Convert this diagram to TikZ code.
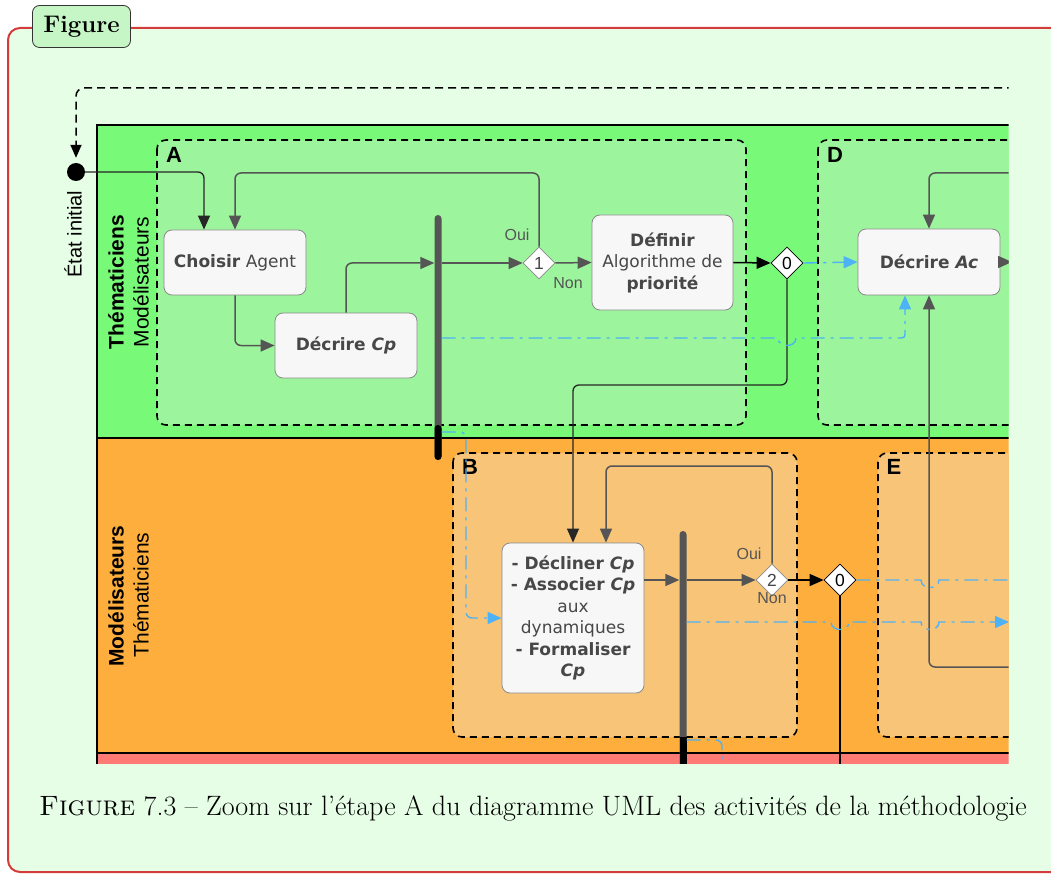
\documentclass[tikz,border=0pt]{standalone}
\usepackage{fontspec}
\newfontfamily\dejavu{DejaVu Sans}
\newfontfamily\libsans{Liberation Sans}
\usetikzlibrary{shapes.geometric,arrows.meta,calc}
\definecolor{framered}{HTML}{D43C3C}
\definecolor{framebg}{HTML}{E6FDE6}
\definecolor{titlebg}{HTML}{C6F6C6}
\definecolor{laneA}{HTML}{78FA78}
\definecolor{laneB}{HTML}{FDAE3D}
\definecolor{laneC}{HTML}{FD7B74}
\definecolor{grpA}{HTML}{9CF59C}
\definecolor{grpB}{HTML}{F7C478}
\definecolor{actfill}{HTML}{F7F7F7}
\definecolor{actdraw}{HTML}{8A8A8A}
\definecolor{flowgray}{HTML}{555555}
\definecolor{txtgray}{HTML}{474747}
\definecolor{flowblue}{HTML}{4DB2F6}
\tikzset{
  activity/.style={draw=actdraw, line width=0.8pt, fill=actfill, rounded corners=8pt, text=txtgray,
    font=\dejavu\fontsize{17}{21.5}\selectfont, align=center, inner sep=3pt},
  decision/.style={diamond, draw=actdraw, fill=white, minimum width=32pt, minimum height=32pt,
    inner sep=0pt, font=\libsans\fontsize{17.5}{18}\selectfont, text=txtgray, line width=0.8pt},
  decisionk/.style={decision, draw=black, text=black},
  forkbar/.style={fill=flowgray, rounded corners=3.5pt, minimum width=7pt, inner sep=0pt, draw=none},
  flow/.style={draw=flowgray, line width=1.5pt, -{Triangle[length=14pt,width=12pt]}},
  flowk/.style={flow, draw=black},
  bluecon/.style={draw=flowblue, line width=1.4pt, dash pattern=on 14pt off 6pt on 3pt off 6pt},
  blueflow/.style={bluecon, -{Triangle[length=14pt,width=12pt]}},
  groupbox/.style={draw=black, line width=1.6pt, dash pattern=on 7pt off 5pt, rounded corners=9pt},
  grplbl/.style={font=\libsans\bfseries\fontsize{22}{24}\selectfont, inner sep=0pt},
  lanebold/.style={font=\libsans\bfseries\fontsize{21}{23}\selectfont, rotate=90, inner sep=0pt},
  lanereg/.style={font=\libsans\fontsize{21}{23}\selectfont, rotate=90, inner sep=0pt},
  lbl/.style={font=\libsans\fontsize{16}{18}\selectfont, text=flowgray, inner sep=0pt},
  titlebox/.style={draw=black!80, line width=0.8pt, fill=titlebg, rounded corners=7pt, minimum width=98pt,
    minimum height=42pt, font=\bfseries\fontsize{24}{26}\selectfont}
}
\begin{document}
\begin{tikzpicture}[x=1pt,y=-1pt]
\useasboundingbox (0,0) rectangle (1051,874);
\begin{scope}
\clip (0,0) rectangle (1051,874);
\draw[draw=framered, line width=2pt, fill=framebg, rounded corners=12pt] (8,28) rectangle (1120,872);
\end{scope}
\node[titlebox] (title) at (81.5,26.5) {Figure};

\begin{scope}
\clip (56,76) rectangle (1008.5,763);
% lanes
\fill[laneA] (97,125) rectangle (1010,438);
\fill[laneB] (97,438) rectangle (1010,753);
\fill[laneC] (97,753) rectangle (1010,770);
\draw[line width=1.6pt] (1010,125) -- (97,125) -- (97,770);
\draw[line width=1.6pt] (97,438) -- (1010,438);
\draw[line width=1.6pt] (97,753) -- (1010,753);
% groups
\draw[groupbox, fill=grpA] (157,140) rectangle (746,425);
\draw[groupbox, fill=grpA] (818,140) rectangle (1040,425);
\draw[groupbox, fill=grpB] (453,453) rectangle (797,737);
\draw[groupbox, fill=grpB] (878,453) rectangle (1040,737);
\node[grplbl] (lA) at (174,155) {A};
\node[grplbl] (lD) at (835,155) {D};
\node[grplbl] (lB) at (470,467) {B};
\node[grplbl] (lE) at (894,467) {E};
% lane labels
\node[lanebold] (l1a) at (116,282) {Thématiciens};
\node[lanereg] (l1b) at (141,282) {Modélisateurs};
\node[lanebold] (l2a) at (116,596) {Modélisateurs};
\node[lanereg] (l2b) at (141,595) {Thématiciens};
% initial state
\node[circle, fill=black, minimum size=18pt, inner sep=0pt] (init) at (76,172) {};
\node[font=\libsans\fontsize{20}{22}\selectfont, rotate=90, inner sep=0pt] (etat) at (73,234) {État initial};
% activities
\node[activity, minimum width=142pt, minimum height=65pt] (choisir) at (235,262.5) {\textbf{Choisir} Agent};
\node[activity, minimum width=142pt, minimum height=65pt] (decrireCp) at (346,345.5) {\textbf{Décrire \textit{Cp}}};
\node[activity, minimum width=141pt, minimum height=95pt] (definir) at (662.5,262.5) {\textbf{Définir}\\Algorithme de\\\textbf{priorité}};
\node[activity, minimum width=142pt, minimum height=66pt] (decrireAc) at (929,262) {\textbf{Décrire \textit{Ac}}};
\node[activity, minimum width=142pt, minimum height=150pt] (bnode) at (573,618) {\textbf{- Décliner \textit{Cp}}\\\textbf{- Associer \textit{Cp}}\\aux\\dynamiques\\\textbf{- Formaliser}\\\textbf{\textit{Cp}}};
% decisions
\node[decision] (d1) at (539,263) {1};
\node[decisionk] (d0a) at (787,263) {0};
\node[decision] (d2) at (772,580) {2};
\node[decisionk] (d0b) at (840,580) {0};
% fork bars
\node[forkbar, minimum height=245pt] (bar1) at (438,337.5) {};
\fill[black, rounded corners=3.5pt] (434.5,425) rectangle (441.5,460);
\node[forkbar, minimum height=245pt] (bar2) at (683,653.5) {};
\fill[black] (679.5,737) rectangle (686.5,776);
% labels
\node[lbl] (oui1) at (517,235) {Oui};
\node[lbl] (non1) at (568,283) {Non};
\node[lbl] (oui2) at (749,554) {Oui};
\node[lbl] (non2) at (772,598) {Non};
% helper coordinates
\coordinate (topR) at (1015,88);
\coordinate (acOut) at (1012,262);
\coordinate (acTopIn) at (1015,173);
\coordinate (acBotIn) at (1015,667);
\coordinate (loop1) at (400,173);
\coordinate (loop2) at (700,466);
\coordinate (d0aDown) at (680,385);
\coordinate (d0bEnd) at (840,775);
\coordinate (blueR1) at (1015,580);
\coordinate (blueR2) at (1009,622);
\coordinate (bar2Down) at (722,775);
\coordinate (y338) at (500,338);
\coordinate (y432) at (500,432);
\coordinate (y622) at (700,622);
\coordinate (y740) at (700,740);
% connectors
\draw[line width=1.5pt, dash pattern=on 8pt off 5pt, rounded corners=8pt, -{Triangle[length=13pt,width=11pt]}, shorten >=5pt] (topR) -| (init.north);
\draw[flow, draw=black!85, line width=1.3pt, rounded corners=6pt] (init.east) -| ([xshift=-31pt]choisir.north);
\draw[flow, rounded corners=6pt] (d1.north) |- (loop1) -| (choisir.north);
\draw[flow, rounded corners=6pt] (choisir.south) |- (decrireCp.west);
\draw[flow, rounded corners=6pt] (decrireCp.north) |- (bar1.west |- d1.west);
\draw[flow] (bar1.east |- d1.west) -- (d1.west);
\draw[flow] (d1.east) -- (definir.west);
\draw[flowk] (definir.east) -- (d0a.west);
\draw[blueflow] (d0a.east) -- (decrireAc.west);
\draw[flow, draw=black!85, line width=1.3pt, rounded corners=6pt] (d0a.south) |- (d0aDown) -| (bnode.north);
\draw[flow] (decrireAc.east) -- (acOut);
\draw[flow, rounded corners=6pt] (acTopIn) -| (decrireAc.north);
\draw[flow, rounded corners=6pt] (acBotIn) -| (decrireAc.south);
\draw[blueflow] (bar1.east |- y338) -- (778,338) .. controls (778,348) and (796,348) .. (796,338) -- (898,338) .. controls (905,338) .. (905,331) -- ([xshift=-24pt]decrireAc.south);
\draw[blueflow, rounded corners=6pt] (bar1.east |- y432) -| (466,618) -- (bnode.west);
\draw[flow] (bnode.east |- d2.west) -- (bar2.west |- d2.west);
\draw[flow] (bar2.east |- d2.west) -- (d2.west);
\draw[flow, rounded corners=6pt] (d2.north) |- (loop2) -| ([xshift=33pt]bnode.north);
\draw[flowk] (d2.east) -- (d0b.west);
\draw[bluecon] (d0b.east) -- (921,580) .. controls (921,590) and (939,590) .. (939,580) -- (blueR1);
\draw[black, line width=1.3pt] (d0b.south) -- (d0bEnd);
\draw[blueflow] (bar2.east |- y622) -- (831,622) .. controls (831,632) and (849,632) .. (849,622) -- (921,622) .. controls (921,632) and (939,632) .. (939,622) -- (blueR2);
\draw[bluecon, rounded corners=6pt] (bar2.east |- y740) -| (bar2Down);
\end{scope}

\node[font=\fontsize{28}{32}\selectfont, anchor=base] (caption) at (533,815) {\textsc{Figure} 7.3 – Zoom sur l’étape A du diagramme UML des activités de la méthodologie};
\end{tikzpicture}
\end{document}
